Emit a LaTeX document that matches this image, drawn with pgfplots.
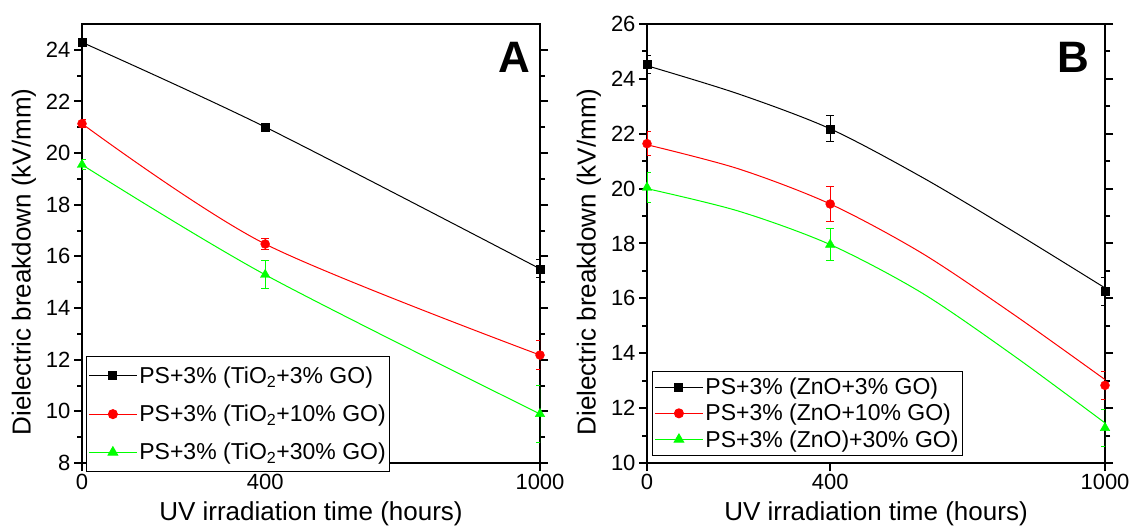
\documentclass[border=0pt]{standalone}
\usepackage{fontspec}
\setmainfont{Liberation Sans}
\usepackage{pgfplots}
\usepackage{pgfplotstable}
\pgfplotsset{compat=1.18}
\definecolor{cgreen}{RGB}{0,255,0}
\definecolor{cred}{RGB}{255,0,0}

% Panel A markers: x, y, error
\pgfplotstableread{
x y e
0 24.29 0.15
400 21.01 0.15
1000 15.52 0.35
}\Ablack
\pgfplotstableread{
x y e
0 21.14 0.15
400 16.48 0.20
1000 12.18 0.56
}\Ared
\pgfplotstableread{
x y e
0 19.55 0.20
400 15.29 0.55
1000 9.90 1.10
}\Agreen
% Panel B markers
\pgfplotstableread{
x y e
0 24.52 0.33
400 22.18 0.48
1000 16.25 0.50
}\Bblack
\pgfplotstableread{
x y e
0 21.64 0.44
400 19.44 0.65
1000 12.83 0.52
}\Bred
\pgfplotstableread{
x y e
0 20.04 0.55
400 17.96 0.59
1000 11.28 0.67
}\Bgreen
% Panel B fitted curves
\pgfplotstableread{
x y
0 24.48
200 23.45
400 22.18
600 20.42
800 18.44
1000 16.38
}\Bblackc
\pgfplotstableread{
x y
0 21.60
200 20.72
400 19.44
600 17.65
800 15.42
1000 13.04
}\Bredc
\pgfplotstableread{
x y
0 20.00
200 19.18
400 17.96
600 16.20
800 13.92
1000 11.46
}\Bgreenc

\pgfplotsset{
  panel/.style={
    scale only axis, width=458pt, height=439pt,
    xmin=0, xmax=1000, xtick={0,400,1000},
    xtick pos=bottom, ytick pos=both,
    tick align=outside,
    minor y tick num=1,
    axis line style={line width=2.5pt},
    every tick/.style={black, line width=2pt},
    major tick length=8pt, minor tick length=5pt,
    tick label style={font=\fontsize{22}{26}\selectfont},
    /pgf/number format/assume math mode=true,
    /pgf/number format/set thousands separator={},
    label style={font=\fontsize{26}{30}\selectfont},
    xlabel={UV irradiation time (hours)},
    ylabel={Dielectric breakdown (kV/mm)},
    xlabel style={at={(axis description cs:0.5,-0.116)}, anchor=center},
    ylabel style={at={(axis description cs:-0.127,0.458)}, anchor=center},
    legend cell align=left,
    legend image code/.code={\draw[mark repeat=2,mark phase=2,##1] plot coordinates {(0pt,0pt) (24pt,0pt) (48pt,0pt)};},
  },
  mk/.style={only marks, forget plot,
    error bars/y dir=both, error bars/y explicit,
    error bars/error bar style={line width=1pt},
    error bars/error mark options={rotate=90, mark size=4pt, line width=1pt}},
  ln/.style={line width=1pt, smooth, no marks, forget plot},
}

\begin{document}
\begin{tikzpicture}
\path[use as bounding box] (0,0) rectangle (1133pt,528pt);

% ---------------- Panel A ----------------
\begin{axis}[panel, at={(82pt,65pt)}, anchor=south west,
  ymin=8, ymax=25, ytick={8,10,...,24},
  legend style={at={(axis description cs:0.0087,-0.02)}, anchor=south west,
    draw=black, line width=0.8pt, fill=white,
    font=\fontsize{23}{27}\selectfont,
    nodes={inner sep=2pt}, row sep=16pt, inner xsep=2pt, inner ysep=8pt},
]
\addplot[ln, black] table[x=x,y=y] {\Ablack};
\addplot[ln, cred] table[x=x,y=y] {\Ared};
\addplot[ln, cgreen] table[x=x,y=y] {\Agreen};
\addplot[mk, black, mark=square*, mark size=4pt] table[x=x,y=y,y error=e] {\Ablack};
\addplot[mk, cred, mark=*, mark size=4.5pt] table[x=x,y=y,y error=e] {\Ared};
\addplot[mk, cgreen, mark=triangle*, mark size=5.5pt] table[x=x,y=y,y error=e] {\Agreen};
\addlegendimage{black, line width=1pt, mark=square*, mark size=4pt}
\addlegendentry{PS+3\% (TiO\textsubscript{2}+3\% GO)}
\addlegendimage{cred, line width=1pt, mark=*, mark size=4.5pt}
\addlegendentry{PS+3\% (TiO\textsubscript{2}+10\% GO)}
\addlegendimage{cgreen, line width=1pt, mark=triangle*, mark size=5.5pt}
\addlegendentry{PS+3\% (TiO\textsubscript{2}+30\% GO)}
\node[font=\bfseries\fontsize{44}{44}\selectfont, anchor=center] at (rel axis cs:0.943,0.924) {A};
\end{axis}

% ---------------- Panel B ----------------
\begin{axis}[panel, at={(647pt,65pt)}, anchor=south west,
  ymin=10, ymax=26, ytick={10,12,...,26},
  legend style={at={(axis description cs:0.011,0.016)}, anchor=south west,
    draw=black, line width=0.8pt, fill=white,
    font=\fontsize{23}{27}\selectfont,
    nodes={inner sep=2pt}, row sep=4pt, inner xsep=2pt, inner ysep=5pt},
]
\addplot[ln, black] table[x=x,y=y] {\Bblackc};
\addplot[ln, cred] table[x=x,y=y] {\Bredc};
\addplot[ln, cgreen] table[x=x,y=y] {\Bgreenc};
\addplot[mk, black, mark=square*, mark size=4pt] table[x=x,y=y,y error=e] {\Bblack};
\addplot[mk, cred, mark=*, mark size=4.5pt] table[x=x,y=y,y error=e] {\Bred};
\addplot[mk, cgreen, mark=triangle*, mark size=5.5pt] table[x=x,y=y,y error=e] {\Bgreen};
\addlegendimage{black, line width=1pt, mark=square*, mark size=4pt}
\addlegendentry{PS+3\% (ZnO+3\% GO)}
\addlegendimage{cred, line width=1pt, mark=*, mark size=4.5pt}
\addlegendentry{PS+3\% (ZnO+10\% GO)}
\addlegendimage{cgreen, line width=1pt, mark=triangle*, mark size=5.5pt}
\addlegendentry{PS+3\% (ZnO)+30\% GO)}
\node[font=\bfseries\fontsize{44}{44}\selectfont, anchor=center] at (rel axis cs:0.932,0.925) {B};
\end{axis}
\end{tikzpicture}
\end{document}
